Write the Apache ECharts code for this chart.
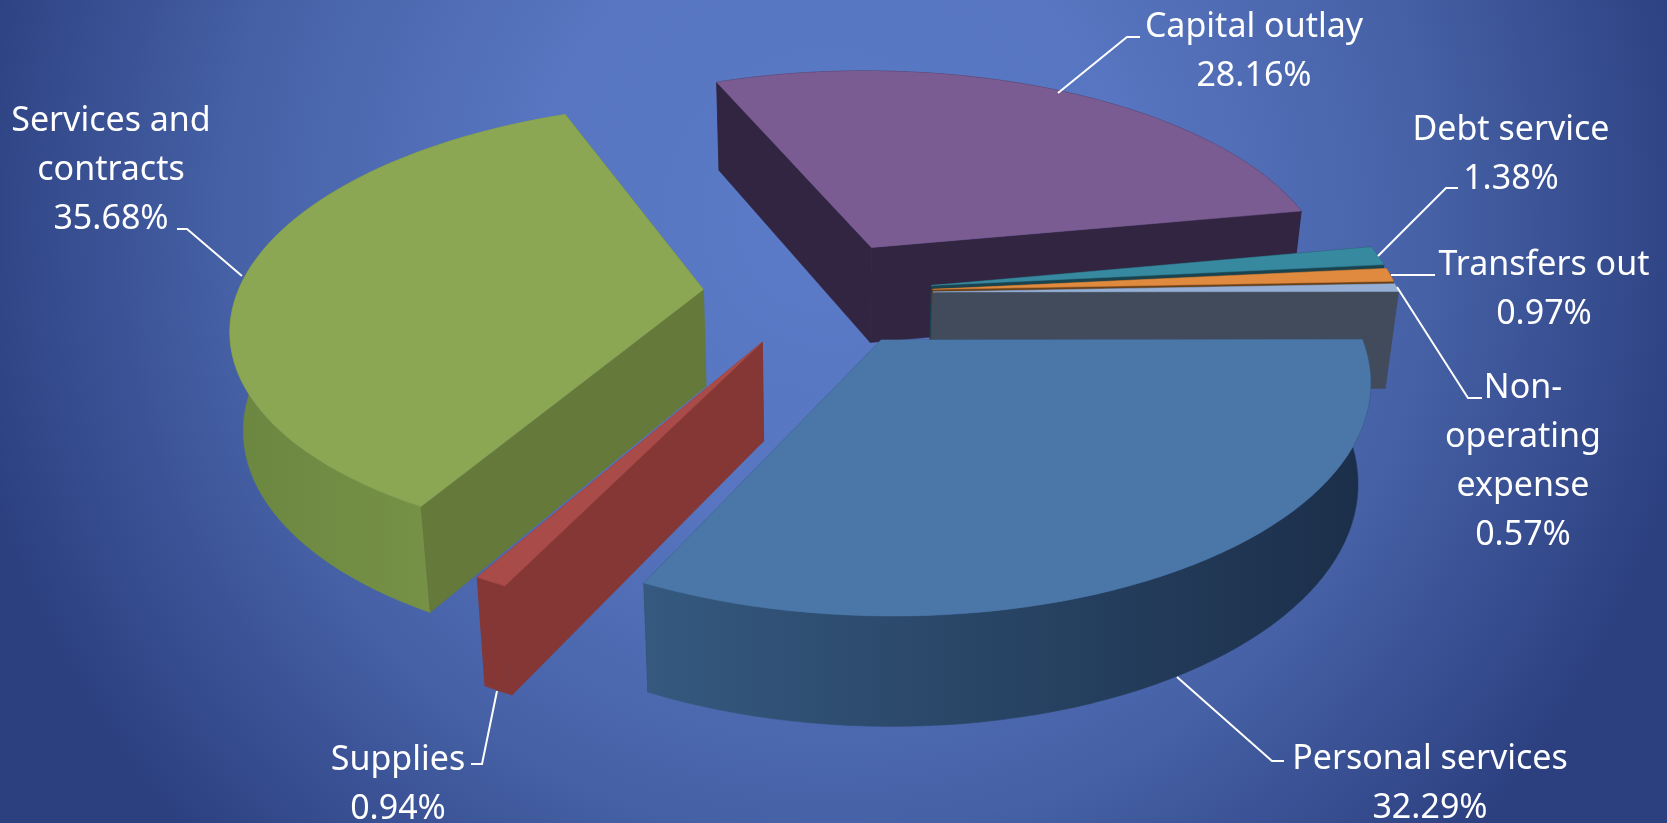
<!DOCTYPE html>
<html>
<head>
<meta charset="utf-8">
<style>
html,body{margin:0;padding:0;width:1667px;height:823px;overflow:hidden;
background:radial-gradient(ellipse 880px 900px at 830px 220px,#5b7bc8 0%,#5775c0 35%,#4661a6 68%,#2c4080 100%);}
#chart{width:1667px;height:823px;}
</style>
<script src="https://cdn.jsdelivr.net/npm/echarts@6/dist/echarts.min.js"></script>
</head>
<body>
<div id="chart"></div>
<script>
// ---- data (clockwise order) ----
const categories = ['Capital outlay','Debt service','Transfers out','Non-operating expense','Personal services','Supplies','Services and contracts'];
const shares = [28.16,1.38,0.97,0.57,32.29,0.94,35.68];
const labelLines = [['Capital outlay'],['Debt service'],['Transfers out'],['Non-','operating','expense'],['Personal services'],['Supplies'],['Services and','contracts']];

// ---- styling and layout ----
const topColors  = ['#7a5c92','#37899f','#df8a3e','#95aed4','#4a77a8','#a94b48','#8ba753'];
const edgeColors = ['#312542','#1a4350','#6a4019','#424b5b','#2c4a6c','#843735','#64793a'];
const arcColors  = [['#312542','#312542'],['#1a4350','#1a4350'],['#6a4019','#6a4019'],['#424b5b','#424b5b'],['#35597f','#1b2e49'],['#843735','#843735'],['#6b8640','#7e9a4a']];
const drawOrder = [0,1,2,3,4,6,5];
const labelCentres = [[1254,27],[1511,130],[1544,265],[1523,388],[1430,759],[398,760],[111,121]];
const lineStep = 49;
const leaders = [
  [[1058,93],[1127,37],[1140,37]],
  [[1378,256],[1446,188],[1458,188]],
  [[1391,275],[1435,275]],
  [[1397,287],[1468,398],[1482,398]],
  [[1177,677],[1272,761],[1284,761]],
  [[497,691],[482,764],[471,764]],
  [[242,276],[187,229],[177,229]]
];
const startAngle = 112, cx = 818, cy = 293, R = 466, A = 217, persp = 0.155, explode = 0.247, depth = 97, taper = 0.023;
const rad = Math.PI/180;

const proj = (X,Y,z) => {
  const s = 1/(1+persp*Y);
  let x = cx + R*X*s, y = cy - A*Y*s;
  if (z) { x = cx + (x-cx)*(1-taper); y += depth*(1+0.6*(s-1)); }
  return [x,y];
};
function slicePolys(i){
  const before = shares.slice(0,i).reduce((a,b)=>a+b,0);
  const a0 = startAngle - before*3.6, a1 = a0 - shares[i]*3.6, mid = (a0+a1)/2;
  const ox = explode*Math.cos(mid*rad), oy = explode*Math.sin(mid*rad);
  const n = Math.max(4,Math.ceil((a0-a1)/2));
  const rim = [];
  for(let k=0;k<=n;k++){ const a=(a0+(a1-a0)*k/n)*rad; rim.push([ox+Math.cos(a),oy+Math.sin(a)]); }
  return {apex:[ox,oy],rim};
}
function renderSlice(params,api){
  const i = api.value(0);
  const {apex,rim} = slicePolys(i);
  const quad = (p,q)=>[proj(p[0],p[1]),proj(q[0],q[1]),proj(q[0],q[1],1),proj(p[0],p[1],1)];
  const faces = [
    {y:(apex[1]+rim[0][1])/2, pts:quad(apex,rim[0]), fill:edgeColors[i]},
    {y:(apex[1]+rim[rim.length-1][1])/2, pts:quad(apex,rim[rim.length-1]), fill:edgeColors[i]},
    {y:rim.reduce((a,p)=>a+p[1],0)/rim.length - 0.3,
     pts:rim.map(p=>proj(p[0],p[1])).concat(rim.slice().reverse().map(p=>proj(p[0],p[1],1))),
     fill:new echarts.graphic.LinearGradient(0,0,1,0,[{offset:0,color:arcColors[i][0]},{offset:1,color:arcColors[i][1]}])}
  ].sort((a,b)=>b.y-a.y);
  const children = faces.map(f=>({type:'polygon',shape:{points:f.pts},style:{fill:f.fill,stroke:f.fill,lineWidth:0.5}}));
  const top = [proj(apex[0],apex[1])].concat(rim.map(p=>proj(p[0],p[1])));
  children.push({type:'polygon',shape:{points:top},style:{fill:topColors[i],stroke:topColors[i],lineWidth:0.5}});
  return {type:'group',children};
}
function renderLabel(params,api){
  const i = api.value(0);
  const [x,y] = labelCentres[i];
  const lines = labelLines[i].concat([shares[i].toFixed(2)+'%']);
  const children = lines.map((t,k)=>({type:'text',style:{text:t,x:x,y:y+k*lineStep,textAlign:'center',textVerticalAlign:'middle',fill:'#ffffff',font:'34px "Noto Sans"'}}));
  children.push({type:'polyline',shape:{points:leaders[i]},style:{fill:'none',stroke:'#ffffff',lineWidth:2}});
  return {type:'group',children};
}
const chart = echarts.init(document.getElementById('chart'),null,{width:1667,height:823});
chart.setOption({
  animation:false,
  backgroundColor:'transparent',
  series:[
    {type:'custom',name:'slices',coordinateSystem:'none',silent:true,renderItem:renderSlice,
     data:drawOrder.map(i=>[i,shares[i]])},
    {type:'custom',name:'labels',coordinateSystem:'none',silent:true,z:5,renderItem:renderLabel,
     data:categories.map((c,i)=>[i,shares[i]])}
  ]
});
</script>
</body>
</html>
